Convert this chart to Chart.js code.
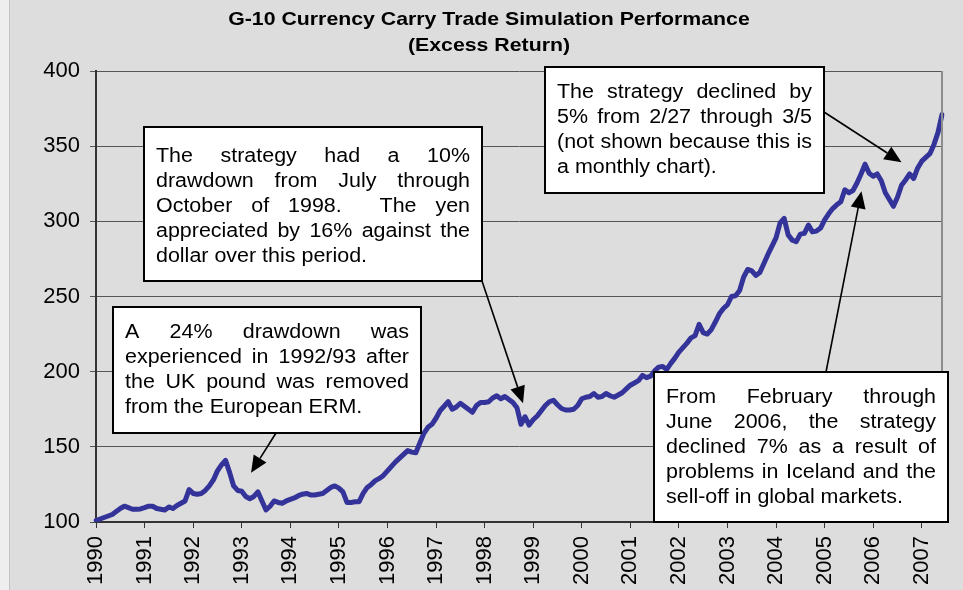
<!DOCTYPE html>
<html><head><meta charset="utf-8">
<script src="https://cdn.jsdelivr.net/npm/chart.js@4.4.1/dist/chart.umd.min.js"></script>
<style>html,body{margin:0;padding:0;background:#dddddd;}#wrap{width:963px;height:590px;}canvas{display:block;}</style>
</head><body><div id="wrap"><canvas id="c" width="963" height="590"></canvas></div>
<script>
const yearLabels = ['1990','1991','1992','1993','1994','1995','1996','1997','1998','1999','2000','2001','2002','2003','2004','2005','2006','2007'];
const v1990 = [101, 102, 103, 104, 105, 107, 109, 110.5, 109.5, 108.5, 108.5, 108.7];
const v1991 = [109.5, 110.5, 110.5, 109, 108.5, 108, 110, 109, 111, 112.5, 114, 121.5];
const v1992 = [119, 118.5, 119, 121, 124, 128, 134, 138, 141, 133, 124, 121];
const v1993 = [120.5, 117, 115.5, 117, 120, 114, 108, 110.5, 114, 113, 112.5, 114];
const v1994 = [115, 116, 117.5, 118.5, 119, 118, 118, 118.5, 119, 121, 123, 124];
const v1995 = [122.5, 120, 113, 113, 113.5, 113.5, 119, 123, 125, 127.5, 129, 131];
const v1996 = [134, 137, 140, 142.5, 145, 147.5, 146.5, 146, 152.5, 159, 163, 165];
const v1997 = [169, 174, 177, 180, 175, 176.5, 179, 177, 175, 173, 177.5, 179.5];
const v1998 = [179.5, 180, 182.5, 184, 182, 183.5, 181.5, 179.5, 176, 165, 170, 164.5];
const v1999 = [168, 170.5, 174, 177.5, 180, 181, 178, 175.5, 174.5, 174.5, 175, 177.5];
const v2000 = [182, 183, 183.5, 185.5, 183, 183.5, 185.5, 184, 183, 184.5, 186, 188.5];
const v2001 = [191, 192.5, 194, 197.5, 196, 197, 200.5, 203, 203.5, 201.5, 205.5, 209];
const v2002 = [213, 216, 219, 222.5, 224, 231.5, 226, 225, 228, 233, 238.5, 242];
const v2003 = [244.5, 250, 250.5, 254, 263, 268, 267, 264, 266, 272, 278, 283.5];
const v2004 = [289, 299, 302, 291, 287.5, 286.5, 291.5, 292, 297.5, 293, 293.5, 295.5];
const v2005 = [301, 305, 308.5, 311, 313, 321, 319, 320.5, 325.5, 331.5, 338, 332];
const v2006 = [330, 331.5, 327, 319, 314.5, 310, 316, 324, 327.5, 331.5, 328.5, 335.5];
const v2007 = [340, 342.5, 345, 351, 359, 371];
const values = [].concat(v1990, v1991, v1992, v1993, v1994, v1995, v1996, v1997, v1998,
  v1999, v2000, v2001, v2002, v2003, v2004, v2005, v2006, v2007);
const monthLabels = values.map((_, i) => (i % 12 === 0 ? yearLabels[i / 12] : ''));

const titleLines = ['G-10 Currency Carry Trade Simulation Performance', '(Excess Return)'];
const note1998 = ['The strategy had a 10%', 'drawdown from July through', 'October of 1998.  The yen', 'appreciated by 16% against the', 'dollar over this period.'];
const note1992 = ['A 24% drawdown was', 'experienced in 1992/93 after', 'the UK pound was removed', 'from the European ERM.'];
const note2007 = ['The strategy declined by', '5% from 2/27 through 3/5', '(not shown because this is', 'a monthly chart).'];
const note2006 = ['From February through', 'June 2006, the strategy', 'declined 7% as a result of', 'problems in Iceland and the', 'sell-off in global markets.'];

const FONT = '"Liberation Sans", Arial, Helvetica, sans-serif';

// layout of annotation boxes (pixels) and arrow tips (in month index / value units)
const boxes = [
  { lines: note1998, l: 144, t: 127, r: 482, b: 281, y0: 157, from: [482, 281], tip: [105.5, 179] },
  { lines: note1992, l: 113, t: 307, r: 421, b: 433, y0: 333, from: [276, 433], tip: [38.3, 132.7] },
  { lines: note2007, l: 545, t: 67, r: 824, b: 193, y0: 93, from: [824, 112], tip: [199, 339.3] },
  { lines: note2006, l: 654, t: 372, r: 948, b: 522, y0: 398, from: [826, 372], tip: [189.1, 320] }
];

function sText(ctx, s, x, y, sx) {
  ctx.save(); ctx.translate(x, y); ctx.scale(sx, 1); ctx.fillText(s, 0, 0); ctx.restore();
}
function tw(ctx, s, sx) { return ctx.measureText(s).width * sx; }
function justified(ctx, line, left, right, y, justify, sx) {
  const words = line.split(' ');
  if (!justify || words.length < 2) { sText(ctx, line, left, y, sx); return; }
  const total = words.reduce((a, w) => a + tw(ctx, w, sx), 0);
  const gap = (right - left - total) / (words.length - 1);
  let x = left;
  words.forEach(w => { sText(ctx, w, x, y, sx); x += tw(ctx, w, sx) + gap; });
}
function arrow(ctx, x1, y1, x2, y2) {
  const ang = Math.atan2(y2 - y1, x2 - x1);
  const len = 17, hw = 7.5;
  const bx = x2 - len * Math.cos(ang), by = y2 - len * Math.sin(ang);
  ctx.beginPath(); ctx.moveTo(x1, y1); ctx.lineTo(bx, by);
  ctx.strokeStyle = '#000'; ctx.lineWidth = 1.6; ctx.stroke();
  ctx.beginPath(); ctx.moveTo(x2, y2);
  ctx.lineTo(bx + hw * Math.sin(ang), by - hw * Math.cos(ang));
  ctx.lineTo(bx - hw * Math.sin(ang), by + hw * Math.cos(ang));
  ctx.closePath(); ctx.fillStyle = '#000'; ctx.fill();
}

const bgPlugin = {
  id: 'bg',
  beforeDraw(chart) {
    const ctx = chart.ctx;
    ctx.save();
    ctx.fillStyle = '#dddddd'; ctx.fillRect(0, 0, chart.width, chart.height);
    ctx.fillStyle = '#eeeeee'; ctx.fillRect(0, 0, 9, chart.height);
    ctx.fillStyle = '#c4c4c4'; ctx.fillRect(9, 0, 1, chart.height);
    ctx.restore();
  }
};

const notesPlugin = {
  id: 'notes',
  afterDraw(chart) {
    const ctx = chart.ctx, a = chart.chartArea;
    const xs = chart.scales.x, ys = chart.scales.y;
    ctx.save();
    ctx.strokeStyle = '#8c8c8c'; ctx.lineWidth = 2;
    ctx.beginPath(); ctx.moveTo(a.right, a.top); ctx.lineTo(a.right, a.bottom); ctx.stroke();
    ctx.fillStyle = '#000'; ctx.textBaseline = 'middle';
    ctx.font = 'bold 19px ' + FONT;
    titleLines.forEach((s, i) => {
      const w = tw(ctx, s, 1.12);
      sText(ctx, s, 489 - w / 2, 20 + i * 26, 1.12);
    });
    ctx.font = '19.5px ' + FONT;
    boxes.forEach(bx => {
      ctx.fillStyle = '#fff'; ctx.fillRect(bx.l, bx.t, bx.r - bx.l, bx.b - bx.t);
      ctx.strokeStyle = '#000'; ctx.lineWidth = 2;
      ctx.strokeRect(bx.l, bx.t, bx.r - bx.l, bx.b - bx.t);
      ctx.fillStyle = '#000';
      bx.lines.forEach((ln, i) => {
        justified(ctx, ln, bx.l + 12, bx.r - 12, bx.y0 + i * 25, i < bx.lines.length - 1, 1.1);
      });
      const tx = xs.getPixelForValue(bx.tip[0]), ty = ys.getPixelForValue(bx.tip[1]);
      arrow(ctx, bx.from[0], bx.from[1], tx, ty);
    });
    ctx.restore();
  }
};

new Chart(document.getElementById('c').getContext('2d'), {
  type: 'line',
  data: {
    labels: monthLabels,
    datasets: [{
      data: values, borderColor: '#333399', borderWidth: 5, pointRadius: 0,
      tension: 0, fill: false, borderJoinStyle: 'round', borderCapStyle: 'round'
    }]
  },
  options: {
    responsive: false, animation: false, events: [],
    layout: { padding: { top: 71, right: 21, left: 0, bottom: 0 } },
    plugins: { legend: { display: false }, title: { display: false }, tooltip: { enabled: false } },
    scales: {
      x: {
        type: 'category', offset: false,
        grid: { drawOnChartArea: false, drawTicks: true, tickLength: 6, color: '#333', lineWidth: 1 },
        border: { color: '#333', width: 2 },
        ticks: {
          autoSkip: false, maxRotation: 90, minRotation: 90, padding: 8, color: '#000',
          font: { family: FONT, size: 22 },
          callback: (v, i) => (i % 12 === 0 ? monthLabels[i] : null)
        },
        afterFit: s => { s.height = 68; }
      },
      y: {
        min: 100, max: 400,
        ticks: { stepSize: 50, padding: 10, color: '#000', font: { family: FONT, size: 22 } },
        grid: { color: '#555', lineWidth: 1, tickLength: 6 },
        border: { color: '#333', width: 2 },
        afterFit: s => { s.width = 96; }
      }
    }
  },
  plugins: [bgPlugin, notesPlugin]
});
</script>
</body></html>
